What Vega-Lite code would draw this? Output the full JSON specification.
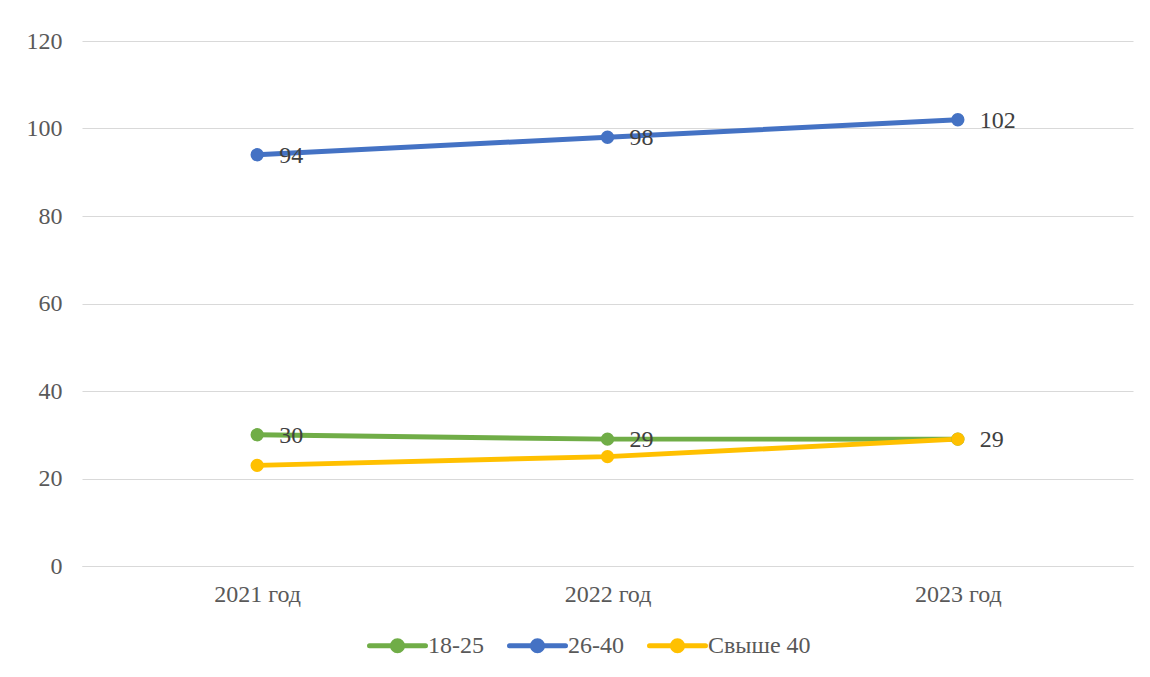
{
  "$schema": "https://vega.github.io/schema/vega-lite/v6.json",
  "width": 1051,
  "height": 525,
  "autosize": {"type": "none"},
  "padding": {"left": 82, "top": 41, "right": 17, "bottom": 111},
  "background": "white",
  "config": {
    "font": "Liberation Serif",
    "view": {"stroke": null}
  },
  "data": {
    "values": [
      {"year": "2021 год", "series": "18-25", "value": 30},
      {"year": "2022 год", "series": "18-25", "value": 29},
      {"year": "2023 год", "series": "18-25", "value": 29},
      {"year": "2021 год", "series": "26-40", "value": 94},
      {"year": "2022 год", "series": "26-40", "value": 98},
      {"year": "2023 год", "series": "26-40", "value": 102},
      {"year": "2021 год", "series": "Свыше 40", "value": 23},
      {"year": "2022 год", "series": "Свыше 40", "value": 25},
      {"year": "2023 год", "series": "Свыше 40", "value": 29}
    ]
  },
  "encoding": {
    "x": {
      "field": "year",
      "type": "nominal",
      "sort": null,
      "axis": {
        "title": null,
        "labelAngle": 0,
        "labelFontSize": 24,
        "labelColor": "#595959",
        "labelPadding": 16,
        "ticks": false,
        "domainColor": "#d9d9d9"
      }
    },
    "y": {
      "field": "value",
      "type": "quantitative",
      "scale": {"domain": [0, 120]},
      "axis": {
        "title": null,
        "values": [0, 20, 40, 60, 80, 100, 120],
        "labelFontSize": 24,
        "labelColor": "#595959",
        "labelPadding": 20,
        "ticks": false,
        "domain": false,
        "gridColor": "#d9d9d9"
      }
    },
    "color": {
      "field": "series",
      "type": "nominal",
      "scale": {
        "domain": ["18-25", "26-40", "Свыше 40"],
        "range": ["#70AD47", "#4472C4", "#FFC000"]
      },
      "legend": {
        "title": null,
        "orient": "none",
        "direction": "horizontal",
        "legendX": 285,
        "legendY": 574,
        "labelFontSize": 24,
        "labelColor": "#595959",
        "labelOffset": 0,
        "columnPadding": 15,
        "symbolType": "M-1,0L1,0M-0.18,0A0.18,0.18,0,1,0,0.18,0A0.18,0.18,0,1,0,-0.18,0Z",
        "symbolSize": 3136,
        "symbolStrokeWidth": 5,
        "encode": {
          "symbols": {
            "update": {
              "fill": {"scale": "color", "field": "value"},
              "stroke": {"scale": "color", "field": "value"},
              "strokeCap": {"value": "round"},
              "opacity": {"value": 1}
            }
          }
        }
      }
    }
  },
  "layer": [
    {"mark": {"type": "line", "strokeWidth": 5, "strokeCap": "round"}},
    {"mark": {"type": "point", "filled": true, "size": 177, "opacity": 1}},
    {
      "transform": [
        {"filter": "(datum.series == '26-40') || (datum.series == '18-25' && datum.year != '2023 год') || (datum.series == 'Свыше 40' && datum.year == '2023 год')"}
      ],
      "mark": {"type": "text", "align": "left", "baseline": "middle", "dx": 22, "dy": 1, "fontSize": 24},
      "encoding": {
        "text": {"field": "value", "type": "quantitative"},
        "color": {"value": "#404040"}
      }
    }
  ]
}
